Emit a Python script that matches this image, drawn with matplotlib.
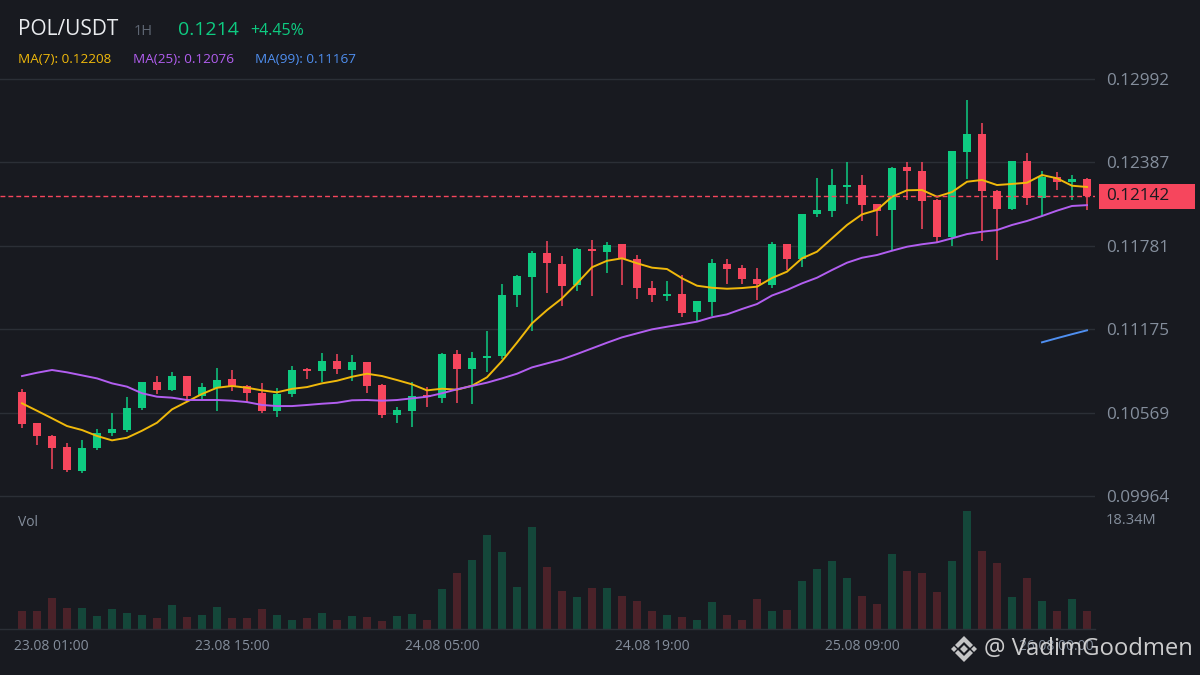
import numpy as np
import matplotlib
matplotlib.use('Agg')
import matplotlib.pyplot as plt
from matplotlib import transforms
from matplotlib.patches import Polygon, Rectangle

plt.rcParams['font.family'] = ['Open Sans', 'DejaVu Sans']

# ---------------- data ----------------
symbol = 'POL/USDT'
interval = '1H'
last_price_text = '0.1214'
change_text = '+4.45%'
last_price = 0.12142

time_labels = ['23.08 01:00', '23.08 15:00', '24.08 05:00', '24.08 19:00', '25.08 09:00', '26.08 00:00']
time_label_idx = [0, 14, 28, 42, 56, 71]

price_ticks = [0.12992, 0.12387, 0.11781, 0.11175, 0.10569, 0.09964]

opens = [0.10719, 0.10494, 0.10400, 0.10320, 0.10148, 0.10315, 0.10423, 0.10445, 0.10603, 0.10792,
         0.10734, 0.10835, 0.10690, 0.10750, 0.10813, 0.10763, 0.10712, 0.10583, 0.10707, 0.10886,
         0.10874, 0.10944, 0.10879, 0.10937, 0.10770, 0.10554, 0.10583, 0.10697, 0.10678, 0.10995,
         0.10888, 0.10968, 0.10983, 0.11426, 0.11554, 0.11728, 0.11649, 0.11498, 0.11758, 0.11736,
         0.11794, 0.11685, 0.11474, 0.11418, 0.11431, 0.11302, 0.11375, 0.11649, 0.11619, 0.11540,
         0.11498, 0.11794, 0.11687, 0.12014, 0.12036, 0.12210, 0.12222, 0.12084, 0.12043, 0.12353,
         0.12324, 0.12113, 0.11847, 0.12464, 0.12593, 0.12181, 0.12050, 0.12397, 0.12130, 0.12280,
         0.12246, 0.12266]
highs = [0.10741, 0.10496, 0.10407, 0.10349, 0.10370, 0.10450, 0.10567, 0.10683, 0.10795, 0.10835,
         0.10864, 0.10838, 0.10784, 0.10893, 0.10879, 0.10770, 0.10784, 0.10748, 0.10908, 0.10893,
         0.11002, 0.10995, 0.10988, 0.10940, 0.10777, 0.10610, 0.10792, 0.10755, 0.11002, 0.11024,
         0.11010, 0.11162, 0.11503, 0.11568, 0.11743, 0.11816, 0.11707, 0.11765, 0.11823, 0.11808,
         0.11797, 0.11714, 0.11525, 0.11525, 0.11568, 0.11383, 0.11685, 0.11685, 0.11641, 0.11619,
         0.11808, 0.11797, 0.12015, 0.12273, 0.12338, 0.12389, 0.12295, 0.12087, 0.12353, 0.12389,
         0.12389, 0.12120, 0.12472, 0.12840, 0.12672, 0.12184, 0.12400, 0.12455, 0.12324, 0.12317,
         0.12295, 0.12273]
lows = [0.10460, 0.10336, 0.10162, 0.10140, 0.10133, 0.10300, 0.10402, 0.10431, 0.10588, 0.10707,
        0.10726, 0.10661, 0.10668, 0.10581, 0.10726, 0.10646, 0.10567, 0.10537, 0.10685, 0.10813,
        0.10794, 0.10852, 0.10801, 0.10714, 0.10532, 0.10496, 0.10467, 0.10612, 0.10641, 0.10641,
        0.10634, 0.10866, 0.10959, 0.11338, 0.11164, 0.11440, 0.11346, 0.11455, 0.11418, 0.11585,
        0.11498, 0.11397, 0.11375, 0.11382, 0.11266, 0.11237, 0.11273, 0.11505, 0.11505, 0.11389,
        0.11476, 0.11605, 0.11629, 0.11992, 0.11992, 0.12086, 0.11963, 0.11854, 0.11752, 0.12116,
        0.11905, 0.11810, 0.11781, 0.12266, 0.11818, 0.11680, 0.12043, 0.12079, 0.11999, 0.12188,
        0.12116, 0.12043]
closes = [0.10489, 0.10402, 0.10315, 0.10155, 0.10312, 0.10419, 0.10450, 0.10603, 0.10792, 0.10736,
          0.10835, 0.10692, 0.10755, 0.10806, 0.10755, 0.10714, 0.10583, 0.10705, 0.10879, 0.10871,
          0.10944, 0.10888, 0.10937, 0.10765, 0.10554, 0.10588, 0.10690, 0.10686, 0.10995, 0.10888,
          0.10966, 0.10980, 0.11423, 0.11561, 0.11728, 0.11658, 0.11491, 0.11758, 0.11745, 0.11787,
          0.11687, 0.11476, 0.11426, 0.11431, 0.11295, 0.11380, 0.11656, 0.11614, 0.11542, 0.11505,
          0.11794, 0.11687, 0.12012, 0.12041, 0.12222, 0.12222, 0.12079, 0.12036, 0.12346, 0.12326,
          0.12108, 0.11847, 0.12469, 0.12593, 0.12181, 0.12050, 0.12397, 0.12130, 0.12280, 0.12246,
          0.12266, 0.12142]

volume_m = [2.84, 2.84, 4.85, 3.30, 3.30, 2.06, 3.15, 2.53, 2.22, 1.75,
            3.77, 1.91, 2.22, 3.46, 1.75, 1.75, 3.15, 2.22, 1.44, 1.75,
            2.53, 1.44, 2.06, 1.91, 1.29, 2.06, 2.37, 1.44, 6.25, 8.73,
            10.74, 14.62, 11.98, 6.56, 15.86, 9.66, 5.94, 5.01, 6.40, 6.40,
            5.16, 4.39, 2.84, 2.22, 1.91, 1.44, 4.23, 2.22, 1.44, 4.70,
            2.84, 2.99, 7.49, 9.35, 10.59, 7.95, 5.16, 3.92, 11.67, 9.04,
            8.73, 5.78, 10.59, 18.34, 12.14, 10.28, 5.01, 7.95, 4.39, 2.84,
            4.70, 2.84]
volume_max_label = '18.34M'

ma7 = [0.10637, 0.10583, 0.10528, 0.10472, 0.10443, 0.10400, 0.10368, 0.10387, 0.10438, 0.10496,
       0.10593, 0.10649, 0.10705, 0.10750, 0.10763, 0.10750, 0.10731, 0.10717, 0.10742, 0.10755,
       0.10782, 0.10801, 0.10830, 0.10852, 0.10835, 0.10806, 0.10775, 0.10731, 0.10743, 0.10736,
       0.10765, 0.10826, 0.10944, 0.11078, 0.11218, 0.11314, 0.11399, 0.11508, 0.11625, 0.11672,
       0.11690, 0.11654, 0.11622, 0.11612, 0.11545, 0.11491, 0.11476, 0.11469, 0.11474, 0.11484,
       0.11547, 0.11593, 0.11690, 0.11738, 0.11835, 0.11932, 0.12009, 0.12041, 0.12137, 0.12184,
       0.12186, 0.12137, 0.12171, 0.12246, 0.12259, 0.12222, 0.12230, 0.12239, 0.12295, 0.12271,
       0.12217, 0.12208]
ma25 = [0.10835, 0.10859, 0.10879, 0.10862, 0.10840, 0.10818, 0.10782, 0.10758, 0.10710, 0.10685,
        0.10678, 0.10661, 0.10661, 0.10661, 0.10656, 0.10646, 0.10625, 0.10617, 0.10617, 0.10625,
        0.10634, 0.10641, 0.10659, 0.10661, 0.10656, 0.10661, 0.10673, 0.10685, 0.10710, 0.10739,
        0.10763, 0.10787, 0.10818, 0.10852, 0.10898, 0.10927, 0.10956, 0.10995, 0.11036, 0.11077,
        0.11116, 0.11145, 0.11174, 0.11193, 0.11211, 0.11230, 0.11262, 0.11283, 0.11322, 0.11358,
        0.11420, 0.11460, 0.11508, 0.11549, 0.11605, 0.11658, 0.11694, 0.11714, 0.11745, 0.11774,
        0.11792, 0.11806, 0.11835, 0.11866, 0.11883, 0.11895, 0.11932, 0.11961, 0.11997, 0.12036,
        0.12070, 0.12076]
ma99_start = 68
ma99 = [0.11080, 0.11110, 0.11139, 0.11167]

ma_labels = ['MA(7): 0.12208', 'MA(25): 0.12076', 'MA(99): 0.11167']

# ---------------- style ----------------
BG = '#181a20'
GRID = '#2b2f36'
TXT = '#848e9c'
UP = '#0ecb81'
DOWN = '#f6465d'
UP_VOL = '#14473a'
DOWN_VOL = '#4b2229'
C7 = '#f0b90b'
C25 = '#b25ef0'
C99 = '#4f8ff0'

W, H = 1200, 675
fig = plt.figure(figsize=(12, 6.75), dpi=100, facecolor=BG)

def fx(px):
    return px / W

def fy(py):
    return 1 - py / H

chart_right = 1095
# price pane: pixel rows 66..505
ax = fig.add_axes([0, fy(505), fx(chart_right), (505 - 66) / H])
ax.set_facecolor('none')
n = len(closes)
idx = np.arange(n)
spacing_px = 15.0
first_px = 22.0
ax.set_xlim(-first_px / spacing_px, (chart_right - first_px) / spacing_px)
# price scale: 0.12992 at y=79px, 0.09964 at y=496px
p_per_px = (price_ticks[0] - price_ticks[-1]) / (496 - 79)
ax.set_ylim(price_ticks[-1] - (505 - 496) * p_per_px, price_ticks[0] + (79 - 66) * p_per_px)

for s in ax.spines.values():
    s.set_visible(False)
ax.set_xticks([])
ax.set_yticks(price_ticks)
ax.tick_params(axis='y', left=False, right=False, labelleft=False, labelright=True,
               length=0, pad=8, labelcolor=TXT, labelsize=12.3)
ax.set_yticklabels([f'{t:.5f}' for t in price_ticks])
ax.grid(axis='y', color=GRID, lw=1.0)
ax.set_axisbelow(True)

o = np.array(opens); c = np.array(closes); h = np.array(highs); l = np.array(lows)
up = c >= o
cols = np.where(up, UP, DOWN)
body_bottom = np.minimum(o, c)
body_h = np.maximum(np.abs(c - o), 0.000025)
ax.vlines(idx, l, h, colors=cols, lw=1.1, zorder=2)
ax.bar(idx, body_h, bottom=body_bottom, width=0.58, color=cols, lw=0, zorder=3)

ax.plot(idx, ma7, color=C7, lw=1.4, zorder=4)
ax.plot(idx, ma25, color=C25, lw=1.4, zorder=4)
ax.plot(np.arange(ma99_start, ma99_start + len(ma99)), ma99, color=C99, lw=1.4, zorder=4)

# current price dashed line + tag
ax.axhline(last_price, color=DOWN, lw=1.0, ls=(0, (3.5, 2.2)), zorder=5)
trans_price = transforms.blended_transform_factory(fig.transFigure, ax.transData)
tag_h = 25 * p_per_px
fig.patches.append(Rectangle((fx(1099), last_price - tag_h / 2), fx(96), tag_h,
                             transform=trans_price, fc=DOWN, ec='none', zorder=6))
fig.text(fx(1106), last_price, f'{last_price:.5f}', transform=trans_price, ha='left', va='center',
         fontsize=12.3, color=BG, zorder=8)

# volume pane: baseline at 629px
vax = fig.add_axes([0, fy(629), fx(chart_right), (629 - 505) / H])
vax.set_facecolor('none')
vax.set_xlim(ax.get_xlim())
vmax = max(volume_m)
vax.set_ylim(0, vmax * (629 - 505) / (629 - 511))
vcols = np.where(up, UP_VOL, DOWN_VOL)
vax.bar(idx, volume_m, width=0.58, color=vcols, lw=0)
for s in ['top', 'left', 'right']:
    vax.spines[s].set_visible(False)
vax.spines['bottom'].set_color(GRID)
vax.spines['bottom'].set_linewidth(1.0)
vax.set_yticks([])
vax.set_xticks([])

# time labels
tt = transforms.blended_transform_factory(vax.transData, fig.transFigure)
for k, (i, lab) in enumerate(zip(time_label_idx, time_labels)):
    if k == 0:
        off = transforms.ScaledTranslation(-8 / 100, 0, fig.dpi_scale_trans)
        vax.text(i, fy(647), lab, transform=tt + off, ha='left', va='center', fontsize=10, color=TXT)
    elif k == len(time_labels) - 1:
        off = transforms.ScaledTranslation(7 / 100, 0, fig.dpi_scale_trans)
        vax.text(i, fy(647), lab, transform=tt + off, ha='right', va='center', fontsize=10, color=TXT)
    else:
        vax.text(i, fy(647), lab, transform=tt, ha='center', va='center', fontsize=10, color=TXT)

fig.text(fx(18), fy(523), 'Vol', ha='left', va='center', fontsize=10, color=TXT)
fig.text(fx(1106), fy(521), volume_max_label, ha='left', va='center', fontsize=10.5, color=TXT)

# header
fig.text(fx(18), fy(35), symbol, ha='left', va='baseline', fontsize=15, color='#eaecef')
fig.text(fx(134), fy(35), interval, ha='left', va='baseline', fontsize=10.5, color='#5e6673')
fig.text(fx(178), fy(35), last_price_text, ha='left', va='baseline', fontsize=14, color=UP)
fig.text(fx(250), fy(35), change_text, ha='left', va='baseline', fontsize=11.5, color=UP)
for xpx, lab, col in zip([18, 133, 255], ma_labels, [C7, C25, C99]):
    fig.text(fx(xpx), fy(63), lab, ha='left', va='baseline', fontsize=9.7, color=col)

# watermark
cx, cy = 964, 649
def diamond(x0, y0, r):
    pts = [(fx(x0), fy(y0 - r)), (fx(x0 + r), fy(y0)), (fx(x0), fy(y0 + r)), (fx(x0 - r), fy(y0))]
    return Polygon(pts, closed=True, transform=fig.transFigure, fc='#d9d9d9', ec='none', alpha=0.9, zorder=10)
for dx, dy, r in [(0, 0, 4), (-10, 0, 3), (10, 0, 3)]:
    fig.patches.append(diamond(cx + dx, cy + dy, r))
for sgn in (-1, 1):
    pts = [(cx - 9, cy + sgn * 4), (cx, cy + sgn * 13), (cx + 9, cy + sgn * 4),
           (cx + 6, cy + sgn * 1), (cx, cy + sgn * 7), (cx - 6, cy + sgn * 1)]
    fig.patches.append(Polygon([(fx(a), fy(b)) for a, b in pts], closed=True, transform=fig.transFigure,
                               fc='#d9d9d9', ec='none', alpha=0.9, zorder=10))
fig.text(fx(984), fy(649), '@ VadimGoodmen', ha='left', va='center', fontsize=17.2,
         color='#e0e0e0', alpha=0.9, zorder=11)

fig.savefig('out.png', dpi=100, facecolor=BG)
